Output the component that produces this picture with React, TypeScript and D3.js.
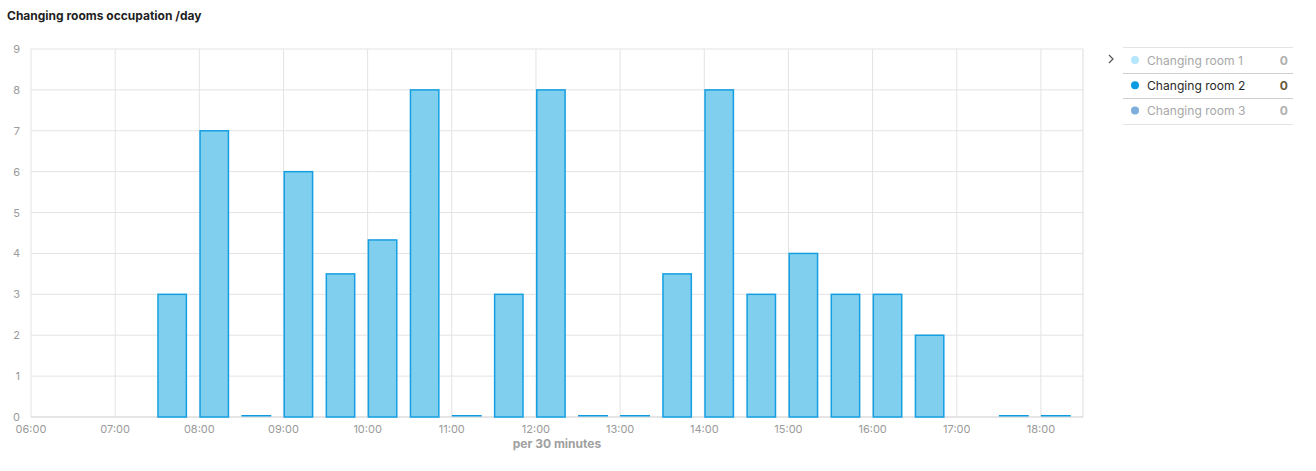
import React from "react";
import * as d3 from "d3";

const slots: string[] = ["07:30","08:00","08:30","09:00","09:30","10:00","10:30","11:00","11:30","12:00","12:30","13:00","13:30","14:00","14:30","15:00","15:30","16:00","16:30","17:30","18:00"];
const values: number[] = [3,7,0,6,3.5,4.33,8,0,3,8,0,0,3.5,8,3,4,3,3,2,0,0];
const hourTicks: string[] = ["06:00","07:00","08:00","09:00","10:00","11:00","12:00","13:00","14:00","15:00","16:00","17:00","18:00"];
const yTicks: number[] = [0,1,2,3,4,5,6,7,8,9];
const legendNames: string[] = ["Changing room 1","Changing room 2","Changing room 3"];
const legendValues: string[] = ["0","0","0"];
const legendColors: string[] = ["#b6e6fb","#0a9be2","#7eaedb"];
const legendActive: boolean[] = [false, true, false];

const toH = (s: string) => { const [h, m] = s.split(":").map(Number); return h + m / 60; };

export default function App() {
  const W = 1316, H = 471;
  const left = 31, right = 1083, top = 49, bottom = 417;
  const x = d3.scaleLinear().domain([6, 18.5]).range([left, right]);
  const y = d3.scaleLinear().domain([0, 9]).range([bottom, top]);
  const font = "Inter, 'Noto Sans', sans-serif";
  const barW = (x(6.5) - x(6)) * 0.71;
  return (
    <svg width={W} height={H} style={{ position: "absolute", left: 0, top: 0 }} fontFamily={font}>
      <text x={7} y={20} fontSize={12} fontWeight={700} fill="#1f1f1f">Changing rooms occupation /day</text>
      {yTicks.map(t => (
        <g key={"y" + t}>
          <line x1={left} x2={right} y1={y(t)} y2={y(t)} stroke="#e3e3e3" strokeWidth={1} />
          <text x={20} y={y(t) + 4} fontSize={11} fill="#9a9a9a" textAnchor="end">{t}</text>
        </g>
      ))}
      {hourTicks.map(t => (
        <g key={"x" + t}>
          <line x1={x(toH(t))} x2={x(toH(t))} y1={top} y2={bottom} stroke="#e3e3e3" strokeWidth={1} />
          <text x={x(toH(t))} y={433} fontSize={11} fill="#9a9a9a" textAnchor="middle">{t}</text>
        </g>
      ))}
      <line x1={right} x2={right} y1={top} y2={bottom} stroke="#dcdcdc" />
      <line x1={left} x2={right} y1={bottom} y2={bottom} stroke="#d9d9d9" />
      {slots.map((s, i) => {
        const x0 = x(toH(s));
        const v = values[i];
        if (v === 0) {
          return <rect key={s} x={x0} y={bottom - 2} width={barW} height={1.5} fill="#0a9be2" />;
        }
        return (
          <rect key={s} x={x0 + 0.75} y={y(v)} width={barW - 1.5} height={bottom - y(v)}
            fill="#80cfef" stroke="#159fe2" strokeWidth={1.5} />
        );
      })}
      <text x={557} y={448} fontSize={12} fontWeight={700} fill="#a0a0a0" textAnchor="middle">per 30 minutes</text>
      <path d="M1109,55 L1113,59 L1109,63" fill="none" stroke="#555" strokeWidth={1.2} />
      {[47.5, 73.5, 98.5, 124.5].map((ly, i) => (
        <line key={"l" + i} x1={1123} x2={1293} y1={ly} y2={ly} stroke={i === 1 || i === 2 ? "#cfcfcf" : "#e3e3e3"} />
      ))}
      {legendNames.map((n, i) => {
        const cy = 60 + i * 25.3;
        return (
          <g key={n}>
            <circle cx={1135} cy={cy} r={4} fill={legendColors[i]} />
            <text x={1147} y={cy + 4.5} fontSize={12.1} fill={legendActive[i] ? "#2a2a2a" : "#a8a8a8"}>{n}</text>
            <text x={1288} y={cy + 4.5} fontSize={12.1} fontWeight={700} textAnchor="end" fill={legendActive[i] ? "#6a5a40" : "#b0b0b0"}>{legendValues[i]}</text>
          </g>
        );
      })}
    </svg>
  );
}
